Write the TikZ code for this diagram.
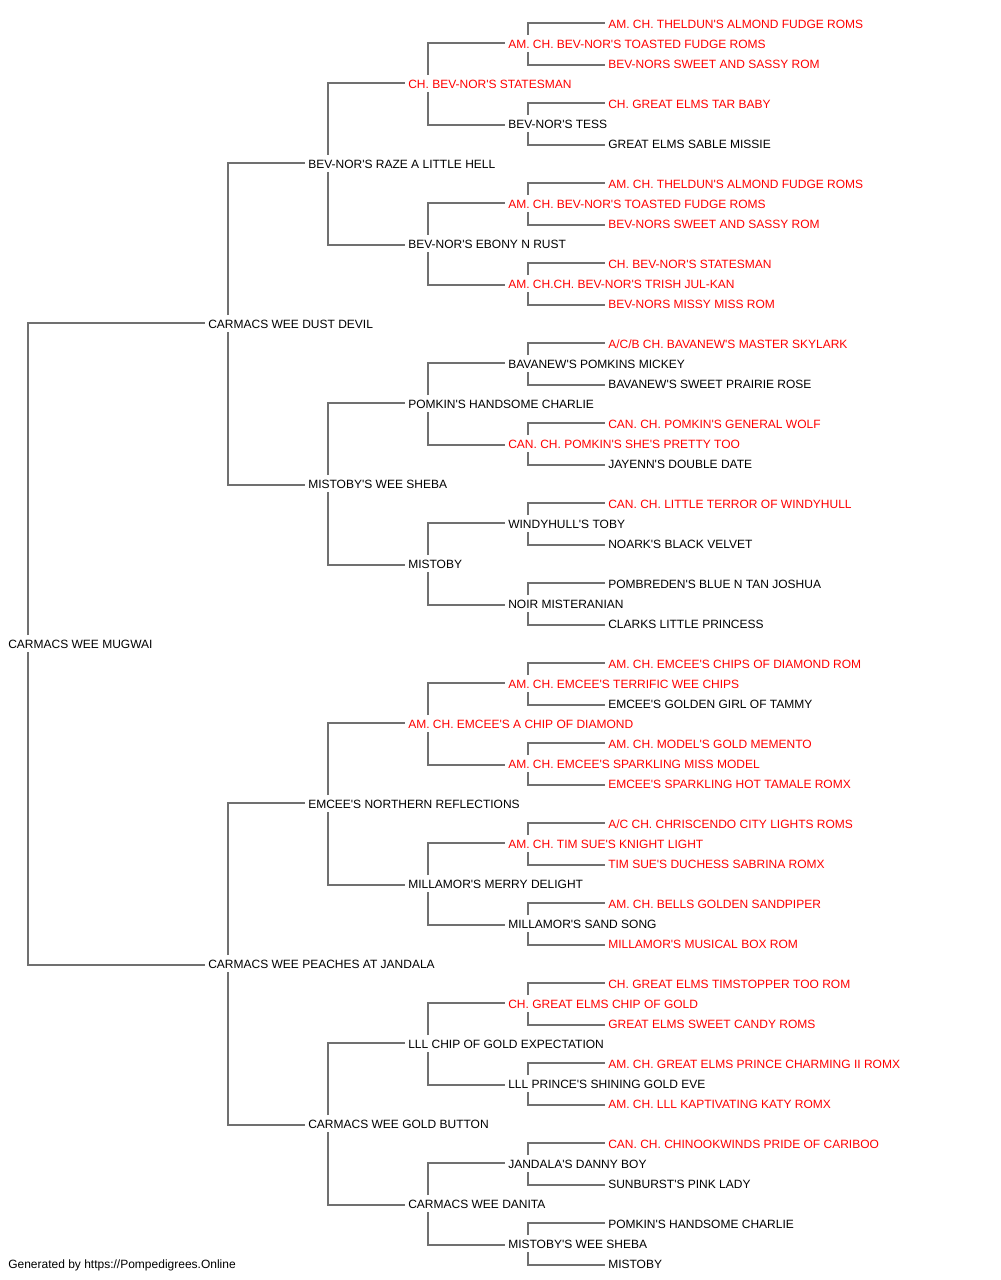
\documentclass[tikz,border=0pt]{standalone}
\usepackage{fontspec}
\setmainfont{Liberation Sans}[Ligatures=TeXOff]
\definecolor{pedred}{HTML}{FF0000}
\definecolor{pedline}{HTML}{707070}
\begin{document}
\begin{tikzpicture}[x=0.75pt,y=0.75pt,
  nm/.style={anchor=west,inner sep=0pt,text height=6.45pt,text depth=0pt,font=\fontsize{9}{11}\selectfont},
  rd/.style={nm,text=pedred},
  bk/.style={nm,text=black},
  conn/.style={draw=pedline,line width=1.4pt}]
\useasboundingbox (0,0) rectangle (1000,-1280);
% generation 0
\node[bk] (n31) at (8,-644) {CARMACS WEE MUGWAI};
% generation 1
\node[bk] (n15) at (208,-324) {CARMACS WEE DUST DEVIL};
\node[bk] (n47) at (208,-964) {CARMACS WEE PEACHES AT JANDALA};
% generation 2
\node[bk] (n7) at (308,-164) {BEV-NOR'S RAZE A LITTLE HELL};
\node[bk] (n23) at (308,-484) {MISTOBY'S WEE SHEBA};
\node[bk] (n39) at (308,-804) {EMCEE'S NORTHERN REFLECTIONS};
\node[bk] (n55) at (308,-1124) {CARMACS WEE GOLD BUTTON};
% generation 3
\node[rd] (n3) at (408,-84) {CH. BEV-NOR'S STATESMAN};
\node[bk] (n11) at (408,-244) {BEV-NOR'S EBONY N RUST};
\node[bk] (n19) at (408,-404) {POMKIN'S HANDSOME CHARLIE};
\node[bk] (n27) at (408,-564) {MISTOBY};
\node[rd] (n35) at (408,-724) {AM. CH. EMCEE'S A CHIP OF DIAMOND};
\node[bk] (n43) at (408,-884) {MILLAMOR'S MERRY DELIGHT};
\node[bk] (n51) at (408,-1044) {LLL CHIP OF GOLD EXPECTATION};
\node[bk] (n59) at (408,-1204) {CARMACS WEE DANITA};
% generation 4
\node[rd] (n1) at (508,-44) {AM. CH. BEV-NOR'S TOASTED FUDGE ROMS};
\node[bk] (n5) at (508,-124) {BEV-NOR'S TESS};
\node[rd] (n9) at (508,-204) {AM. CH. BEV-NOR'S TOASTED FUDGE ROMS};
\node[rd] (n13) at (508,-284) {AM. CH.CH. BEV-NOR'S TRISH JUL-KAN};
\node[bk] (n17) at (508,-364) {BAVANEW'S POMKINS MICKEY};
\node[rd] (n21) at (508,-444) {CAN. CH. POMKIN'S SHE'S PRETTY TOO};
\node[bk] (n25) at (508,-524) {WINDYHULL'S TOBY};
\node[bk] (n29) at (508,-604) {NOIR MISTERANIAN};
\node[rd] (n33) at (508,-684) {AM. CH. EMCEE'S TERRIFIC WEE CHIPS};
\node[rd] (n37) at (508,-764) {AM. CH. EMCEE'S SPARKLING MISS MODEL};
\node[rd] (n41) at (508,-844) {AM. CH. TIM SUE'S KNIGHT LIGHT};
\node[bk] (n45) at (508,-924) {MILLAMOR'S SAND SONG};
\node[rd] (n49) at (508,-1004) {CH. GREAT ELMS CHIP OF GOLD};
\node[bk] (n53) at (508,-1084) {LLL PRINCE'S SHINING GOLD EVE};
\node[bk] (n57) at (508,-1164) {JANDALA'S DANNY BOY};
\node[bk] (n61) at (508,-1244) {MISTOBY'S WEE SHEBA};
% generation 5
\node[rd] (n0) at (608,-24) {AM. CH. THELDUN'S ALMOND FUDGE ROMS};
\node[rd] (n2) at (608,-64) {BEV-NORS SWEET AND SASSY ROM};
\node[rd] (n4) at (608,-104) {CH. GREAT ELMS TAR BABY};
\node[bk] (n6) at (608,-144) {GREAT ELMS SABLE MISSIE};
\node[rd] (n8) at (608,-184) {AM. CH. THELDUN'S ALMOND FUDGE ROMS};
\node[rd] (n10) at (608,-224) {BEV-NORS SWEET AND SASSY ROM};
\node[rd] (n12) at (608,-264) {CH. BEV-NOR'S STATESMAN};
\node[rd] (n14) at (608,-304) {BEV-NORS MISSY MISS ROM};
\node[rd] (n16) at (608,-344) {A/C/B CH. BAVANEW'S MASTER SKYLARK};
\node[bk] (n18) at (608,-384) {BAVANEW'S SWEET PRAIRIE ROSE};
\node[rd] (n20) at (608,-424) {CAN. CH. POMKIN'S GENERAL WOLF};
\node[bk] (n22) at (608,-464) {JAYENN'S DOUBLE DATE};
\node[rd] (n24) at (608,-504) {CAN. CH. LITTLE TERROR OF WINDYHULL};
\node[bk] (n26) at (608,-544) {NOARK'S BLACK VELVET};
\node[bk] (n28) at (608,-584) {POMBREDEN'S BLUE N TAN JOSHUA};
\node[bk] (n30) at (608,-624) {CLARKS LITTLE PRINCESS};
\node[rd] (n32) at (608,-664) {AM. CH. EMCEE'S CHIPS OF DIAMOND ROM};
\node[bk] (n34) at (608,-704) {EMCEE'S GOLDEN GIRL OF TAMMY};
\node[rd] (n36) at (608,-744) {AM. CH. MODEL'S GOLD MEMENTO};
\node[rd] (n38) at (608,-784) {EMCEE'S SPARKLING HOT TAMALE ROMX};
\node[rd] (n40) at (608,-824) {A/C CH. CHRISCENDO CITY LIGHTS ROMS};
\node[rd] (n42) at (608,-864) {TIM SUE'S DUCHESS SABRINA ROMX};
\node[rd] (n44) at (608,-904) {AM. CH. BELLS GOLDEN SANDPIPER};
\node[rd] (n46) at (608,-944) {MILLAMOR'S MUSICAL BOX ROM};
\node[rd] (n48) at (608,-984) {CH. GREAT ELMS TIMSTOPPER TOO ROM};
\node[rd] (n50) at (608,-1024) {GREAT ELMS SWEET CANDY ROMS};
\node[rd] (n52) at (608,-1064) {AM. CH. GREAT ELMS PRINCE CHARMING II ROMX};
\node[rd] (n54) at (608,-1104) {AM. CH. LLL KAPTIVATING KATY ROMX};
\node[rd] (n56) at (608,-1144) {CAN. CH. CHINOOKWINDS PRIDE OF CARIBOO};
\node[bk] (n58) at (608,-1184) {SUNBURST'S PINK LADY};
\node[bk] (n60) at (608,-1224) {POMKIN'S HANDSOME CHARLIE};
\node[bk] (n62) at (608,-1264) {MISTOBY};
% footer
\node[bk] (foot) at (8,-1264) {Generated by https://Pompedigrees.Online};
% connectors: parent/sire/dam
\foreach \p/\s/\d in {31/15/47,
  15/7/23, 47/39/55,
  7/3/11, 23/19/27, 39/35/43, 55/51/59,
  3/1/5, 11/9/13, 19/17/21, 27/25/29, 35/33/37, 43/41/45, 51/49/53, 59/57/61,
  1/0/2, 5/4/6, 9/8/10, 13/12/14, 17/16/18, 21/20/22, 25/24/26, 29/28/30,
  33/32/34, 37/36/38, 41/40/42, 45/44/46, 49/48/50, 53/52/54, 57/56/58, 61/60/62}{
  \draw[conn] ([shift={(20,9)}]n\p.west) |- ([shift={(-3,1)}]n\s.west);
  \draw[conn] ([shift={(20,-8)}]n\p.west) |- ([shift={(-3,-1)}]n\d.west);
}
\end{tikzpicture}
\end{document}
